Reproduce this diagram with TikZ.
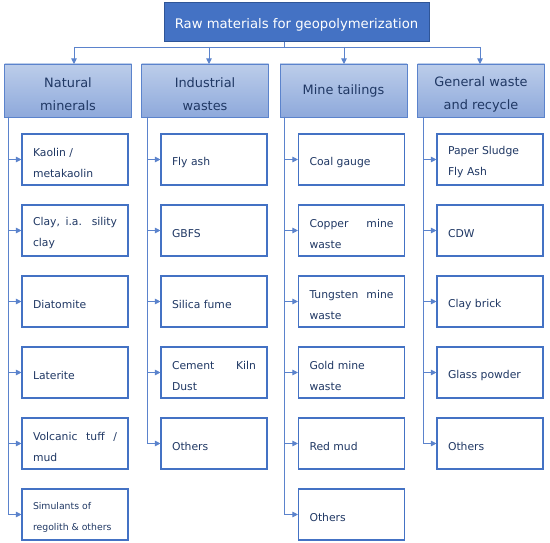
\documentclass[tikz,border=0pt]{standalone}
\usepackage{fontspec}
\setmainfont{DejaVu Sans}
\usepackage{xcolor}
\usepackage{tikz}
\usetikzlibrary{calc,arrows.meta}
\definecolor{royal}{HTML}{4472C4}
\definecolor{deepnavy}{HTML}{203864}
\definecolor{edgeblue}{HTML}{2F5597}
\definecolor{paleblue}{HTML}{BCCDEA}
\definecolor{midblue}{HTML}{8EA9DB}
\definecolor{linkblue}{HTML}{5B83CC}
\tikzset{rootbox/.style={rectangle,draw=edgeblue,line width=1pt,fill=royal,minimum width=265pt,minimum height=39pt},
roottext/.style={text=white,inner sep=0pt,font=\fontsize{13.2}{15}\selectfont},
catbox/.style={rectangle,draw=linkblue,line width=0.8pt,top color=paleblue,bottom color=midblue,minimum width=127pt,minimum height=53pt},
cattext/.style={text=deepnavy,inner sep=0pt,align=center,font=\fontsize{12.9}{23}\selectfont},
itembox/.style={rectangle,draw=royal,line width=1.1pt,fill=white,minimum width=106pt,minimum height=51pt},
itemtext/.style={text=deepnavy,inner sep=0pt,text width=84pt,align=justify,font=\fontsize{10.8}{21}\selectfont},
link/.style={draw=linkblue,line width=0.9pt},
arr/.style={link,-{Triangle[length=5.5pt,width=5.5pt]}}}

\begin{document}
\begin{tikzpicture}[x=1pt,y=-1pt]
\useasboundingbox (0,0) rectangle (550,543);
\node[rootbox] (root) at (296.5,22.5) {};
\node[roottext] (roottxt) at ([yshift=-2.5pt]root.center) {Raw materials for geopolymerization};
% the four groups
\foreach \c/\x/\dy/\t in {1/68/-4/{Natural\\minerals},2/205/-4/{Industrial\\wastes},3/343.5/-0.5/{Mine tailings},4/481/-4/{General waste\\and recycle}}{
 \node[catbox] (cat\c) at (\x,90.5) {};
 \node[cattext] (cattxt\c) at ([yshift=\dy pt]cat\c.center) {\t};
}
% bus from root to the four groups
\coordinate (hub) at (284,47);
\draw[link] (root.south -| hub) -- (hub);
\coordinate (tip1) at (74,64);
\coordinate (tip2) at (209,64);
\coordinate (tip3) at (344,64);
\coordinate (tip4) at (480,64);
\draw[link] (hub -| tip1) -- (hub -| tip4);
\foreach \c in {1,...,4}{\draw[arr] (hub -| tip\c) -- (tip\c);}
% spines under the groups
\coordinate (spine1) at (8,117);
\coordinate (spine2) at (147,117);
\coordinate (spine3) at (284,117);
\coordinate (spine4) at (423,117);
% items, column by column
\foreach \c/\bx/\list in {
 1/75/{Kaolin /\\metakaolin,{Clay, i.a. sility clay},Diatomite,Laterite,Volcanic tuff / mud,{\fontsize{9.3}{22}\selectfont Simulants of\\regolith \& others}},
 2/214/{Fly ash,GBFS,Silica fume,Cement Kiln Dust,Others},
 3/351.5/{Coal gauge,Copper mine waste,Tungsten mine waste,Gold mine\\waste,Red mud,Others},
 4/490/{Paper Sludge\\Fly Ash,CDW,Clay brick,Glass powder,Others}}{
 \foreach \t [count=\r] in \list{
  \node[itembox] (it\c\r) at (\bx,88.5+71*\r) {};
  \node[itemtext] (txt\c\r) at ([yshift=-3pt]it\c\r.center) {\t};
  \draw[arr] (spine\c) |- (it\c\r.west);
 }
}
\end{tikzpicture}
\end{document}
